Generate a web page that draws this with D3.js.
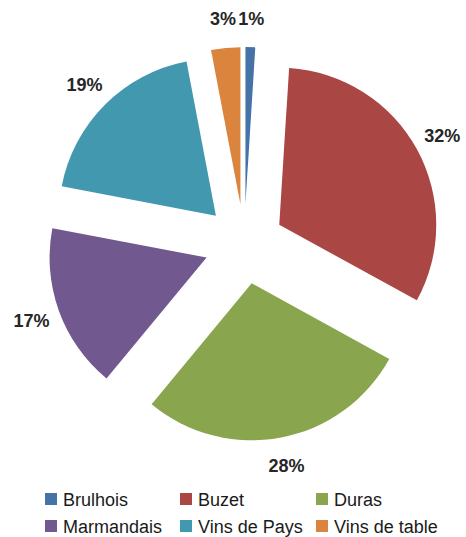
<!DOCTYPE html>
<html>
<head>
<meta charset="utf-8">
<script src="https://cdn.jsdelivr.net/npm/d3@7/dist/d3.min.js"></script>
<style>
  html, body { margin: 0; padding: 0; background: #fff; }
  svg { display: block; font-family: "Liberation Sans", Arial, sans-serif; }
</style>
</head>
<body>
<svg id="chart" width="466" height="537"></svg>
<script>
// Wine appellation shares (%)
const categories = ["Brulhois", "Buzet", "Duras", "Marmandais", "Vins de Pays", "Vins de table"];
const shares = [1, 32, 28, 17, 19, 3];
const colors = ["#4572A7", "#AA4643", "#89A54E", "#71588F", "#4198AF", "#DB843D"];

const svg = d3.select("#chart");
const width = 466;

const cx = 244.2, cy = 244;
const radius = 157;
const explode = 40;
const labelDist = 186;

const pie = d3.pie().sort(null).value(d => d.value).startAngle(0).endAngle(2 * Math.PI);
const arcs = pie(categories.map((c, i) => ({ name: c, value: shares[i], color: colors[i] })));
const arc = d3.arc().innerRadius(0).outerRadius(radius);

const g = svg.append("g").attr("transform", `translate(${cx},${cy})`);

const slices = g.selectAll("g.slice").data(arcs).join("g")
  .attr("class", "slice")
  .attr("transform", d => {
    const a = (d.startAngle + d.endAngle) / 2;
    return `translate(${explode * Math.sin(a)},${-explode * Math.cos(a)})`;
  });

slices.append("path")
  .attr("d", arc)
  .attr("fill", d => d.data.color);

slices.append("text")
  .attr("x", d => labelDist * Math.sin((d.startAngle + d.endAngle) / 2))
  .attr("y", d => -labelDist * Math.cos((d.startAngle + d.endAngle) / 2))
  .attr("dy", "0.36em")
  .attr("text-anchor", "middle")
  .attr("font-size", 18)
  .attr("font-weight", "bold")
  .attr("fill", "#262626")
  .text(d => d.data.value + "%");

// Legend: three columns, two rows
const legendCols = [45, 180, 316];
const legendRows = [506, 533];
const legend = svg.append("g");
categories.forEach((c, i) => {
  const x = legendCols[i % 3];
  const y = legendRows[Math.floor(i / 3)];
  legend.append("rect")
    .attr("x", x).attr("y", y - 13)
    .attr("width", 12).attr("height", 12)
    .attr("fill", colors[i]);
  legend.append("text")
    .attr("x", x + 18).attr("y", y)
    .attr("font-size", 18)
    .attr("fill", "#1a1a1a")
    .text(c);
});
</script>
</body>
</html>
